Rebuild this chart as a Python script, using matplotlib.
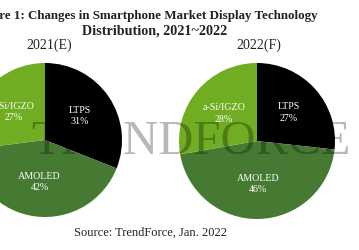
import matplotlib.pyplot as plt

# data
techs = ['LTPS', 'AMOLED', 'a-Si/IGZO']
share_2021 = [31, 42, 27]
share_2022 = [27, 46, 28]
years = ['2021(E)', '2022(F)']
colors = ['#000000', '#467A33', '#70AD22']

serif = 'Liberation Serif'

fig = plt.figure(figsize=(3.59, 2.5), dpi=100)
ax = fig.add_axes([0, 0, 1, 1])

# pixel-like coordinates, y up
pies = [(share_2021, (45, 110), 77), (share_2022, (257, 109), 78)]
for shares, center, r in pies:
    labels = [f'{t}\n{v}%' for t, v in zip(techs, shares)]
    wedges, texts = ax.pie(shares, colors=colors, labels=labels, startangle=90,
                           counterclock=False, center=center, radius=r,
                           labeldistance=0.55,
                           wedgeprops=dict(linewidth=0),
                           textprops=dict(color='white', fontsize=7.2,
                                          family=serif, linespacing=1.35))
    for t in texts:
        t.set_ha('center')
        t.set_va('center')
        t.set_zorder(6)

# watermark
ax.text(191, 108, 'TRENDFORCE', fontsize=35, family=serif, color='black',
        alpha=0.28, ha='center', va='center', zorder=5)

ax.text(318, 234, 'Figure 1: Changes in Smartphone Market Display Technology',
        ha='right', va='center', fontsize=9.4, fontweight='bold', family=serif,
        color='#222222')
ax.text(155, 219, 'Distribution, 2021~2022', ha='center', va='center',
        fontsize=10.2, fontweight='bold', family=serif, color='#222222')
ax.text(49, 205, years[0], ha='center', va='center', fontsize=10,
        family=serif, color='#222222')
ax.text(259, 205, years[1], ha='center', va='center', fontsize=10,
        family=serif, color='#222222')
ax.text(150, 17, 'Source: TrendForce, Jan. 2022', ha='center', va='center',
        fontsize=9, family=serif, color='#222222')

ax.set_xlim(0, 359)
ax.set_ylim(0, 250)
ax.set_aspect('equal')
ax.axis('off')

fig.savefig('out.png', dpi=100)
